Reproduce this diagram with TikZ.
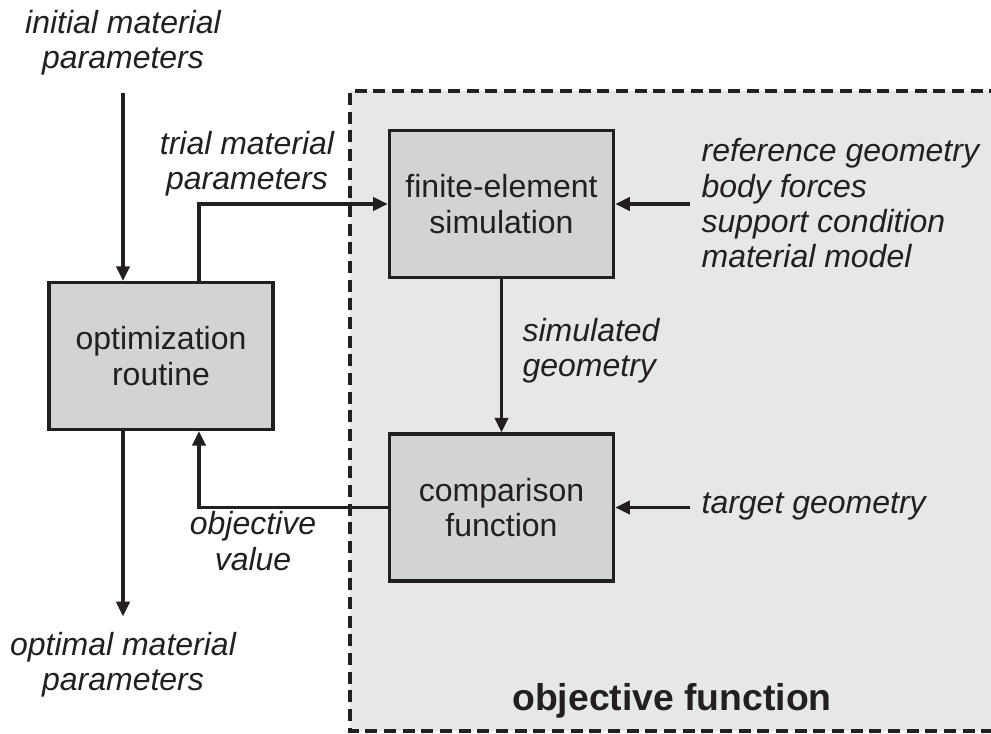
\documentclass[tikz,border=0pt]{standalone}
\usepackage{fontspec}
\setmainfont{Liberation Sans}
\usetikzlibrary{arrows.meta}
\definecolor{ink}{HTML}{231F20}
\definecolor{boxgray}{HTML}{D1D3D4}
\definecolor{areagray}{HTML}{E6E7E8}

\begin{document}
\begin{tikzpicture}[x=0.75pt, y=-0.75pt, >={Triangle[length=11pt,width=10pt]},
    line width=2.4pt, draw=ink,
    block/.style={draw=ink, fill=boxgray, line width=2.6pt, minimum width=168pt,
      minimum height=110pt, align=center, text=ink, font=\fontsize{24}{26.5}\selectfont},
    lbl/.style={inner sep=0pt, text=ink, font=\fontsize{24}{26.5}\selectfont\itshape}]
    \useasboundingbox (0, 0) rectangle (991, 733);
    \fill[areagray] (350, 91) rectangle (1020, 731);
    \draw[ink, dash pattern=on 9pt off 5pt] (1020, 91) -- (350, 91) -- (350, 731) -- (1020, 731);
    \node[lbl, anchor=base, font=\fontsize{28}{30}\selectfont\bfseries] (objfun) at (672, 710) {objective function};

    \node[block] (fem) at (501.5, 204) {finite-element\\simulation};
    \node[block] (opt) at (161, 356) {optimization\\routine};
    \node[block] (cmp) at (501.5, 507.5) {comparison\\function};

    \node[lbl, align=center] (init) at (123, 42.5) {initial material\\parameters};
    \node[lbl, align=center] (trial) at (247, 163.5) {trial material\\parameters};
    \node[lbl, align=left, anchor=west] (simgeo) at (521, 351) {simulated\\geometry};
    \node[lbl, align=left, anchor=west] (inputs) at (700, 203.5) {reference geometry\\body forces\\support condition\\material model};
    \node[lbl, anchor=base west] (target) at (700, 513) {target geometry};
    \node[lbl, align=center] (objval) at (253, 541) {objective\\value};
    \node[lbl, align=center] (optimal) at (123, 664.5) {optimal material\\parameters};

    \draw[->, shorten <=12pt] (init) -- (init |- opt.north);
    \draw[->] ([xshift=28.5pt]opt.north) |- (fem.west);
    \draw[->] (fem) -- (cmp);
    \draw[->, shorten <=7.5pt] (inputs.west |- fem.east) -- (fem.east);
    \draw[->, shorten <=7.5pt] (target.west |- cmp.east) -- (cmp.east);
    \draw[->] (cmp.west) -| ([xshift=28.5pt]opt.south);
    \draw[->, shorten >=10.5pt] (opt.south -| optimal) -- (optimal);
\end{tikzpicture}
\end{document}
